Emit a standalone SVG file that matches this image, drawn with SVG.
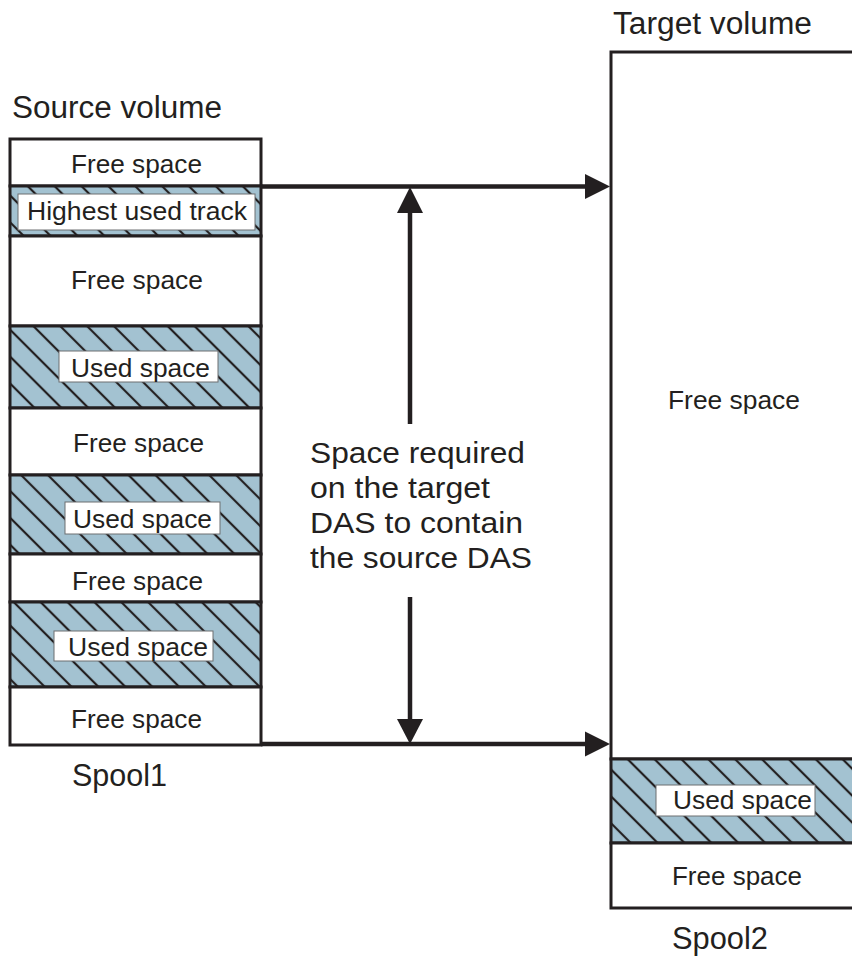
<svg xmlns="http://www.w3.org/2000/svg" width="852" height="957" viewBox="0 0 852 957">
<style>
text{font-family:"Liberation Sans",Arial,sans-serif;fill:#231f20}
.lbl{font-size:31px}
.mid{font-size:30px}
.row{font-size:26px;text-anchor:start}
.free{fill:#ffffff;stroke:#231f20;stroke-width:3}
.used{fill:url(#hatch);stroke:#231f20;stroke-width:3}
.tag{fill:#ffffff;stroke:#6d6e71;stroke-width:1}
.conn{stroke:#231f20;stroke-width:4.5;fill:none}
.head{fill:#231f20}
</style>
<defs>
<pattern id="hatch" patternUnits="userSpaceOnUse" width="19" height="19" patternTransform="rotate(-45)">
<rect width="19" height="19" fill="#a3c2d1"/>
<line x1="2" y1="0" x2="2" y2="19" stroke="#231f20" stroke-width="2.2"/>
</pattern>
</defs>
<text class="lbl" x="613" y="34" textLength="199" lengthAdjust="spacingAndGlyphs">Target volume</text>
<text class="lbl" x="12" y="118" textLength="210" lengthAdjust="spacingAndGlyphs">Source volume</text>
<text class="lbl" x="72" y="786" textLength="95" lengthAdjust="spacingAndGlyphs">Spool1</text>
<text class="lbl" x="672" y="949" textLength="96" lengthAdjust="spacingAndGlyphs">Spool2</text>
<g id="source-volume">
<g id="src-free-1"><rect class="free" x="10" y="139" width="251" height="47"/><text class="row" x="71" y="173" textLength="131" lengthAdjust="spacingAndGlyphs">Free space</text></g>
<g id="src-highest"><rect class="used" x="10" y="186" width="251" height="50"/><rect class="tag" x="18" y="194" width="237" height="36"/><text class="row" x="27" y="220" textLength="220" lengthAdjust="spacingAndGlyphs">Highest used track</text></g>
<g id="src-free-2"><rect class="free" x="10" y="236" width="251" height="90"/><text class="row" x="71" y="289" textLength="132" lengthAdjust="spacingAndGlyphs">Free space</text></g>
<g id="src-used-1"><rect class="used" x="10" y="326" width="251" height="82"/><rect class="tag" x="59" y="351" width="159" height="31"/><text class="row" x="71" y="377" textLength="139" lengthAdjust="spacingAndGlyphs">Used space</text></g>
<g id="src-free-3"><rect class="free" x="10" y="408" width="251" height="67"/><text class="row" x="73" y="452" textLength="131" lengthAdjust="spacingAndGlyphs">Free space</text></g>
<g id="src-used-2"><rect class="used" x="10" y="475" width="251" height="79"/><rect class="tag" x="65" y="502" width="155" height="32"/><text class="row" x="73" y="528" textLength="139" lengthAdjust="spacingAndGlyphs">Used space</text></g>
<g id="src-free-4"><rect class="free" x="10" y="554" width="251" height="48"/><text class="row" x="72" y="590" textLength="131" lengthAdjust="spacingAndGlyphs">Free space</text></g>
<g id="src-used-3"><rect class="used" x="10" y="602" width="251" height="85"/><rect class="tag" x="54" y="631" width="159" height="30"/><text class="row" x="68" y="656" textLength="140" lengthAdjust="spacingAndGlyphs">Used space</text></g>
<g id="src-free-5"><rect class="free" x="10" y="687" width="251" height="58"/><text class="row" x="71" y="728" textLength="131" lengthAdjust="spacingAndGlyphs">Free space</text></g>
</g>
<g id="target-volume">
<g id="tgt-free-1"><path class="free" d="M860 52 H611 V759 H860"/><text class="row" x="668" y="409" textLength="132" lengthAdjust="spacingAndGlyphs">Free space</text></g>
<g id="tgt-used"><rect class="used" x="611" y="759" width="260" height="84"/><rect class="tag" x="656" y="785" width="159" height="31"/><text class="row" x="673" y="809" textLength="139" lengthAdjust="spacingAndGlyphs">Used space</text></g>
<g id="tgt-free-2"><path class="free" d="M860 843 H611 V908 H860"/><text class="row" x="672" y="885" textLength="130" lengthAdjust="spacingAndGlyphs">Free space</text></g>
</g>
<g id="connectors">
<line class="conn" x1="261" y1="186.5" x2="588" y2="186.5"/>
<polygon class="head" points="585,174 610,186.5 585,199"/>
<line class="conn" x1="261" y1="744" x2="588" y2="744"/>
<polygon class="head" points="585,731.5 610,744 585,756.5"/>
<line class="conn" x1="410" y1="210" x2="410" y2="424"/>
<polygon class="head" points="397,213 410,187 423,213"/>
<line class="conn" x1="410" y1="597" x2="410" y2="722"/>
<polygon class="head" points="397,719 410,744 423,719"/>
</g>
<g id="space-label">
<text class="mid" x="310" y="463" textLength="215" lengthAdjust="spacingAndGlyphs">Space required</text>
<text class="mid" x="310" y="498" textLength="180" lengthAdjust="spacingAndGlyphs">on the target</text>
<text class="mid" x="310" y="533" textLength="213" lengthAdjust="spacingAndGlyphs">DAS to contain</text>
<text class="mid" x="310" y="568" textLength="222" lengthAdjust="spacingAndGlyphs">the source DAS</text>
</g>
</svg>
